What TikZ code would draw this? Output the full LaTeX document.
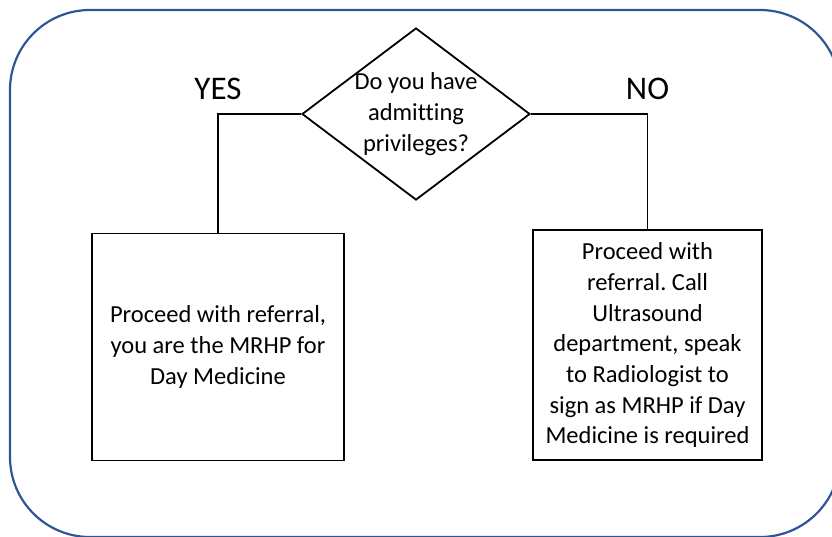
\documentclass[tikz,border=0pt]{standalone}
\usepackage{fontspec}
\setmainfont{Carlito}[Ligatures=NoCommon]
\usepackage{tikz}
\usetikzlibrary{shapes.geometric,positioning}
\frenchspacing

\definecolor{framecol}{HTML}{2F5597}

\tikzset{
  frame/.style={draw=framecol, line width=2.2pt, rounded corners=80pt},
  decision/.style={diamond, draw, line width=1.8pt, minimum width=228pt, minimum height=172pt, inner sep=0pt},
  procbox/.style={rectangle, draw, line width=1.8pt, inner sep=0pt, align=center},
  boxtext/.style={font=\fontsize{24.5}{30.7}\selectfont},
  answer/.style={font=\fontsize{33}{36}\selectfont, inner sep=0pt},
  link/.style={line width=1.8pt}
}

\begin{document}
\begin{tikzpicture}[x=1pt, y=-1pt]
  \useasboundingbox (0,0) rectangle (832,536);
  \draw[frame] (10,10) rectangle (840,537);

  \node[decision] (question) at (416,114) {};
  \node[boxtext, align=center, inner sep=0pt] (questiontext) at (question.center) {Do you have\\admitting\\privileges?};

  \node[procbox, boxtext, minimum width=252pt, minimum height=227pt] (yesbox) at (218,347)
    {Proceed with referral,\\you are the MRHP for\\Day Medicine};
  \node[procbox, boxtext, minimum width=229pt, minimum height=230pt] (nobox) at (647.5,345.3)
    {Proceed with\\referral. Call\\Ultrasound\\department, speak\\to Radiologist to\\sign as MRHP if Day\\Medicine is required};

  \node[answer] (yes) at (218,89) {YES};
  \node[answer] (no) at (647.5,89) {NO};

  % Connect the nodes
  \draw[link] (question.west) -| (yesbox.north);
  \draw[link] (question.east) -| (nobox.north);
\end{tikzpicture}
\end{document}
